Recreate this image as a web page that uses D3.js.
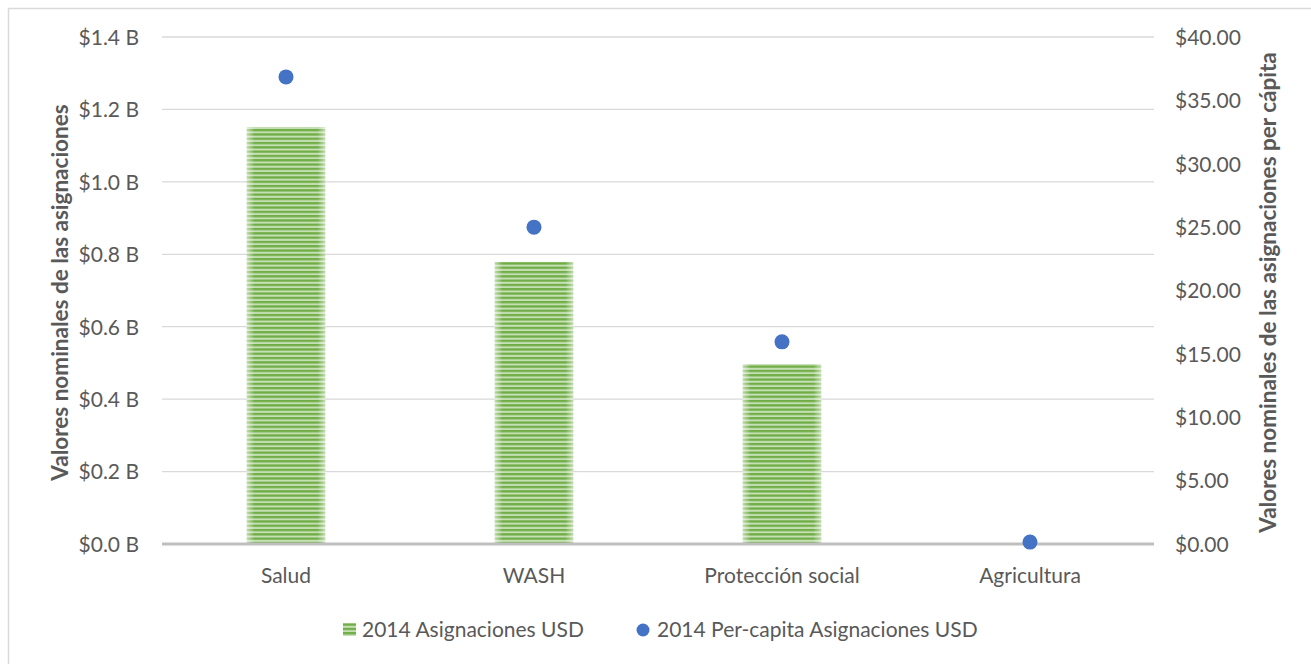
<!DOCTYPE html>
<html>
<head>
<meta charset="utf-8">
<script src="https://cdn.jsdelivr.net/npm/d3@7"></script>
<style>
  body { margin: 0; background: #fff; }
  svg { display: block; font-family: Lato, "Open Sans", sans-serif; }
  .tick text { fill: #595959; font-size: 21px; font-family: Lato, "Open Sans", sans-serif; }
  .axis-title { fill: #595959; font-size: 22.5px; font-weight: bold; }
  .cat-label, .legend-label { fill: #595959; font-size: 21px; }
</style>
</head>
<body>
<svg id="chart"></svg>
<script>
// ─── Data ─────────────────────────────────────────────────────────────────────
const categories = ["Salud", "WASH", "Protección social", "Agricultura"];
const allocations = [1.151e9, 0.779e9, 0.497e9, 0.002e9];   // 2014 Asignaciones USD
const perCapita   = [36.85, 25.0, 15.95, 0.15];              // 2014 Per-capita Asignaciones USD
const leftTicks   = [0, 0.2e9, 0.4e9, 0.6e9, 0.8e9, 1.0e9, 1.2e9, 1.4e9];
const rightTicks  = [0, 5, 10, 15, 20, 25, 30, 35, 40];
const seriesNames = ["2014 Asignaciones USD", "2014 Per-capita Asignaciones USD"];

// ─── Configuration ────────────────────────────────────────────────────────────
const W = 1311, H = 664;
const plot = { left: 162, right: 1154, top: 37, bottom: 544 };
const colors = {
  barDark: "#70ad47",
  barLight: "#c5e0b4",
  dot: "#4472c4",
  grid: "#d9d9d9",
  baseline: "#bfbfbf",
  border: "#d9d9d9"
};

const svg = d3.select("#chart").attr("width", W).attr("height", H);

// Outer chart frame
svg.append("rect")
  .attr("x", 8.5).attr("y", 8.5)
  .attr("width", W + 10).attr("height", H + 10)
  .attr("fill", "#fff")
  .attr("stroke", colors.border).attr("stroke-width", 1.5);

// ─── Striped fill for the bars ────────────────────────────────────────────────
const defs = svg.append("defs");
const pat = defs.append("pattern")
  .attr("id", "stripes")
  .attr("patternUnits", "userSpaceOnUse")
  .attr("width", 8).attr("height", 4.3);
pat.append("rect").attr("width", 8).attr("height", 4.3).attr("fill", colors.barLight);
pat.append("rect").attr("width", 8).attr("height", 2.3).attr("fill", colors.barDark);

// soft lighter edges on each bar
const edge = defs.append("linearGradient").attr("id", "edge").attr("x1", "0%").attr("x2", "100%");
[[0, 0.55], [0.1, 0], [0.9, 0], [1, 0.55]].forEach(([o, a]) => {
  edge.append("stop").attr("offset", `${o * 100}%`).attr("stop-color", "#fff").attr("stop-opacity", a);
});

// ─── Scales ───────────────────────────────────────────────────────────────────
const x = d3.scaleBand().domain(categories).range([plot.left, plot.right]).paddingInner(0.684).paddingOuter(0.342);
const yL = d3.scaleLinear().domain([0, 1.4e9]).range([plot.bottom, plot.top]);
const yR = d3.scaleLinear().domain([0, 40]).range([plot.bottom, plot.top]);

// ─── Gridlines ────────────────────────────────────────────────────────────────
svg.append("g")
  .selectAll("line")
  .data(leftTicks.slice(1))
  .join("line")
  .attr("x1", plot.left).attr("x2", plot.right)
  .attr("y1", d => yL(d)).attr("y2", d => yL(d))
  .attr("stroke", colors.grid).attr("stroke-width", 1.3);

// ─── Axes ─────────────────────────────────────────────────────────────────────
const leftAxis = svg.append("g")
  .attr("transform", `translate(${plot.left},0)`)
  .call(d3.axisLeft(yL).tickValues(leftTicks).tickSize(0).tickPadding(23)
    .tickFormat(v => `$${d3.format(".1f")(v / 1e9)} B`));
leftAxis.select(".domain").remove();
leftAxis.selectAll("text").attr("dy", "0.35em");

const rightAxis = svg.append("g")
  .attr("transform", `translate(${plot.right},0)`)
  .call(d3.axisRight(yR).tickValues(rightTicks).tickSize(0).tickPadding(21)
    .tickFormat(v => `$${d3.format(".2f")(v)}`));
rightAxis.select(".domain").remove();
rightAxis.selectAll("text").attr("dy", "0.35em");

// ─── Bars ─────────────────────────────────────────────────────────────────────
const bars = svg.append("g").selectAll("g")
  .data(categories.map((c, i) => ({ c, v: allocations[i] })))
  .join("g");
bars.append("rect")
  .attr("x", d => x(d.c)).attr("width", x.bandwidth())
  .attr("y", d => yL(d.v)).attr("height", d => yL(0) - yL(d.v))
  .attr("fill", "url(#stripes)");
bars.append("rect")
  .attr("x", d => x(d.c)).attr("width", x.bandwidth())
  .attr("y", d => yL(d.v)).attr("height", d => yL(0) - yL(d.v))
  .attr("fill", "url(#edge)");

// baseline
svg.append("line")
  .attr("x1", plot.left).attr("x2", plot.right)
  .attr("y1", yL(0)).attr("y2", yL(0))
  .attr("stroke", colors.baseline).attr("stroke-width", 3);

// ─── Per-capita dots ──────────────────────────────────────────────────────────
svg.append("g").selectAll("circle")
  .data(categories.map((c, i) => ({ c, v: perCapita[i] })))
  .join("circle")
  .attr("cx", d => x(d.c) + x.bandwidth() / 2)
  .attr("cy", d => yR(d.v))
  .attr("r", 7.5)
  .attr("fill", colors.dot);

// ─── Category labels ──────────────────────────────────────────────────────────
svg.append("g").selectAll("text")
  .data(categories)
  .join("text")
  .attr("class", "cat-label")
  .attr("x", d => x(d) + x.bandwidth() / 2)
  .attr("y", 583)
  .attr("text-anchor", "middle")
  .text(d => d);

// ─── Axis titles ──────────────────────────────────────────────────────────────
svg.append("text")
  .attr("class", "axis-title")
  .attr("transform", `translate(68,${(plot.top + plot.bottom) / 2 + 2}) rotate(-90)`)
  .attr("text-anchor", "middle")
  .text("Valores nominales de las asignaciones");

svg.append("text")
  .attr("class", "axis-title")
  .attr("transform", `translate(1276,${(plot.top + plot.bottom) / 2 + 2}) rotate(-90)`)
  .attr("text-anchor", "middle")
  .text("Valores  nominales de las asignaciones per cápita");

// ─── Legend ───────────────────────────────────────────────────────────────────
const legend = svg.append("g");
legend.append("rect")
  .attr("x", 343).attr("y", 623).attr("width", 13).attr("height", 13)
  .attr("fill", "url(#stripes)");
legend.append("text")
  .attr("class", "legend-label")
  .attr("x", 362).attr("y", 637)
  .text(seriesNames[0]);
legend.append("circle")
  .attr("cx", 643).attr("cy", 630).attr("r", 6.5)
  .attr("fill", colors.dot);
legend.append("text")
  .attr("class", "legend-label")
  .attr("x", 657).attr("y", 637)
  .text(seriesNames[1]);
</script>
</body>
</html>
